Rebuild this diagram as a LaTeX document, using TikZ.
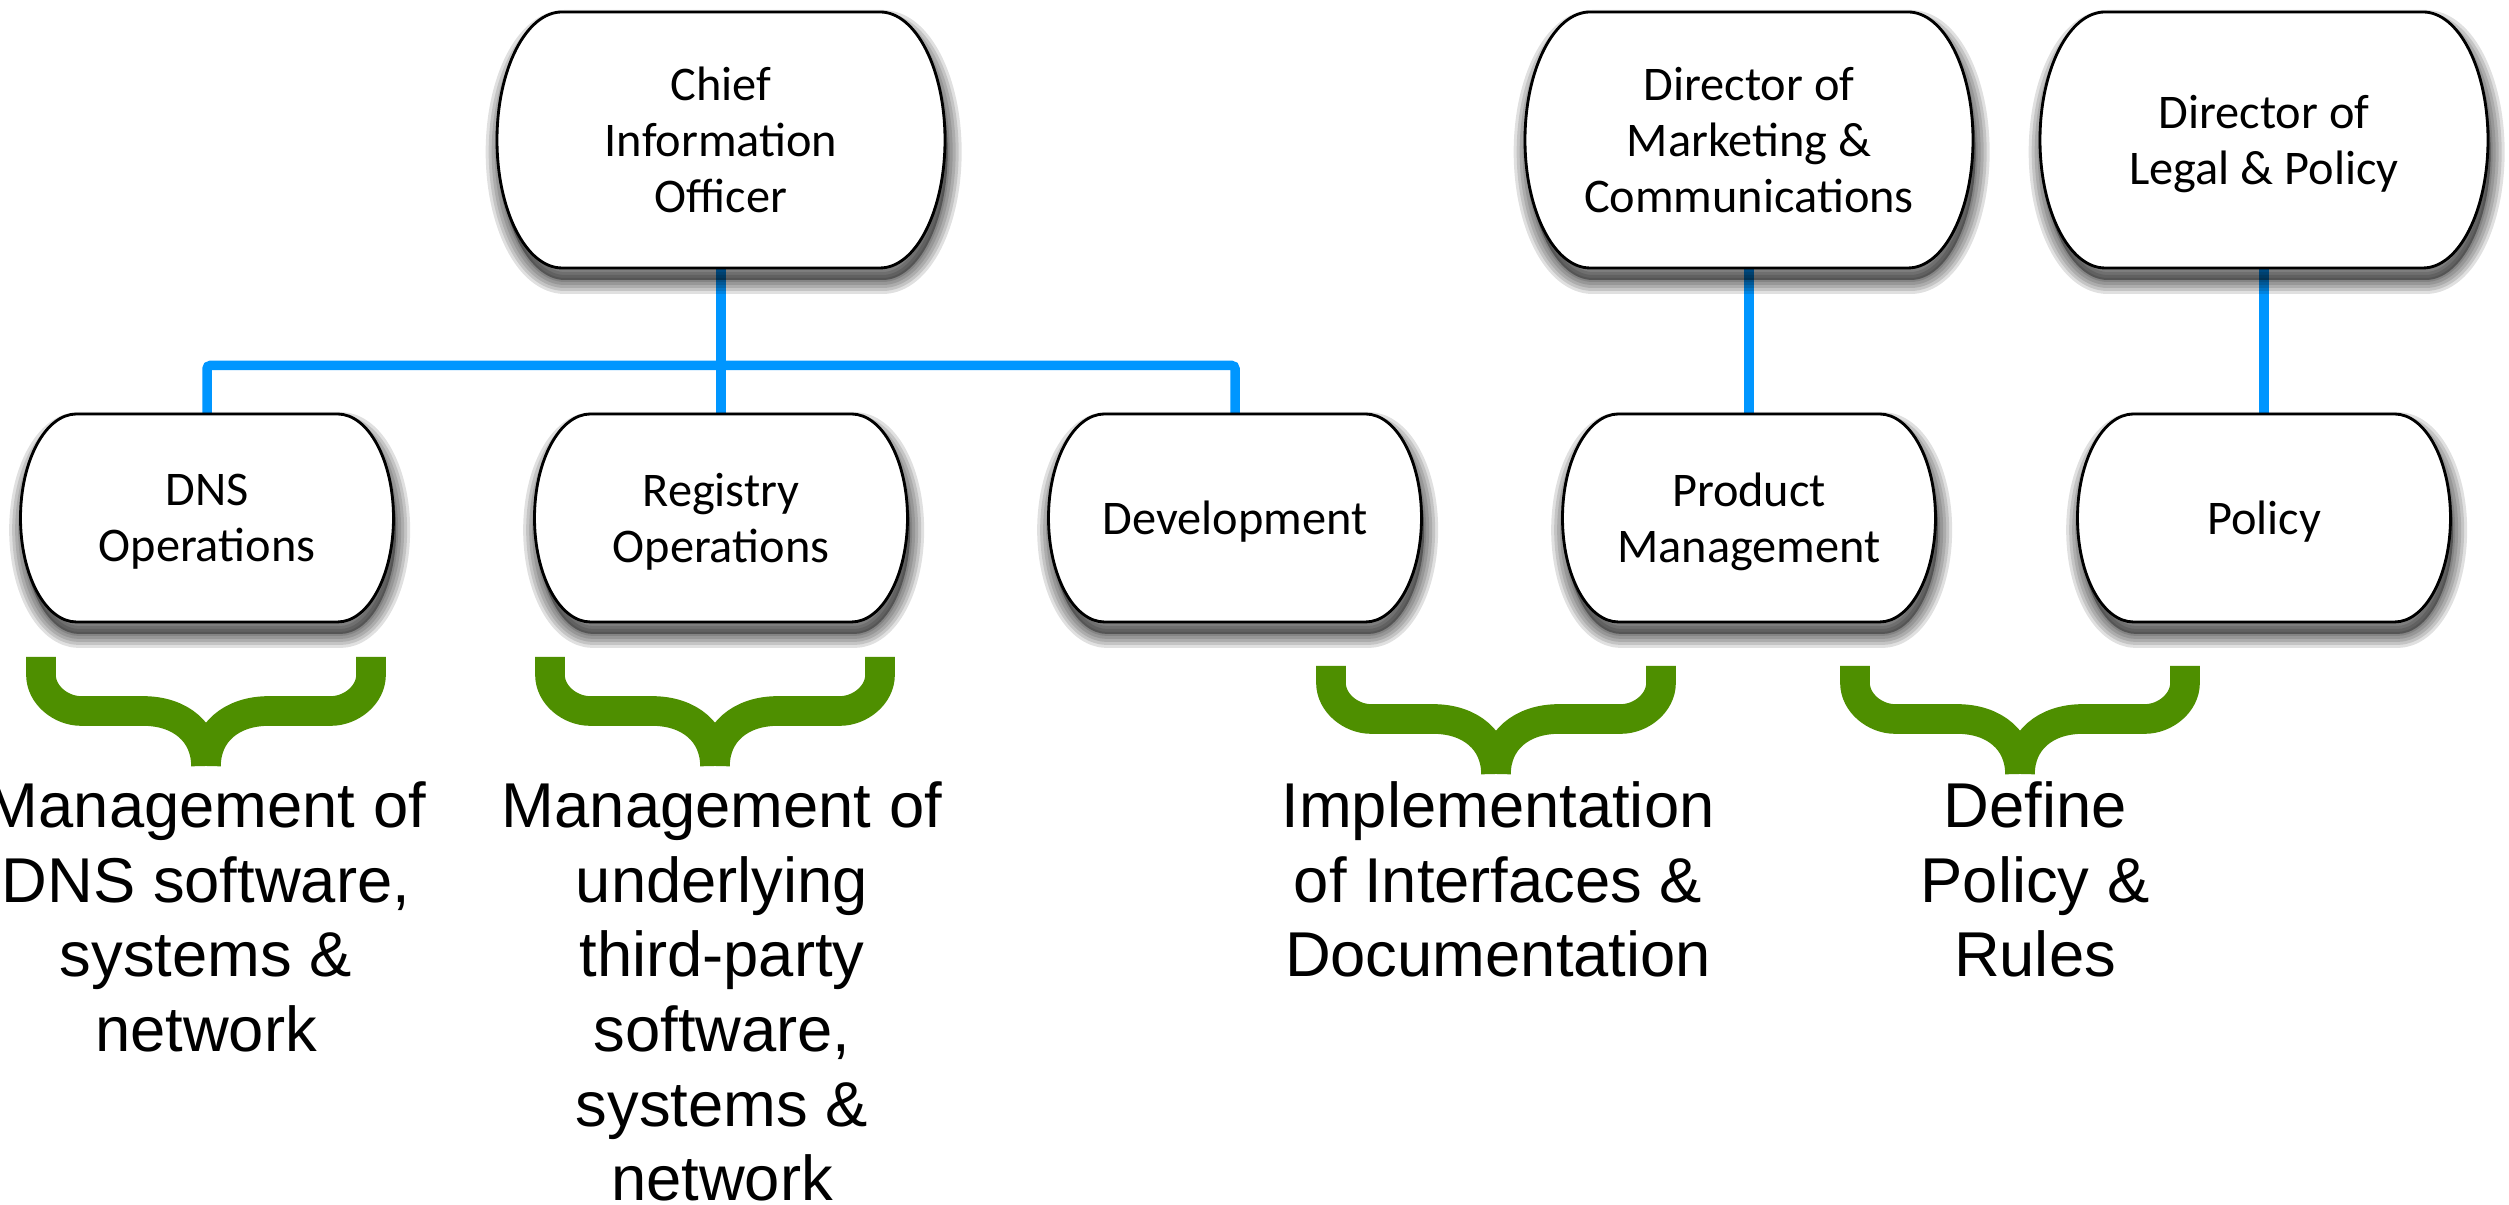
\documentclass[tikz,border=0pt]{standalone}
\usepackage{fontspec}
\setmainfont{Carlito}
\newfontfamily\arialf{Liberation Sans}
\definecolor{conblue}{RGB}{0,150,255}
\definecolor{brgreen}{RGB}{78,143,0}
\pgfdeclarelayer{bg}
\pgfdeclarelayer{lines}
\pgfdeclarelayer{shadows}
\pgfdeclarelayer{boxes}
\pgfsetlayers{bg,lines,shadows,boxes,main}
% outline of a box: name, bulge, half height, x offset, y offset
\newcommand\barrelpath[5]{([xshift=#2+#4,yshift=#5]#1.north west) -- ([xshift=-#2+#4,yshift=#5]#1.north east)
    arc[start angle=90,end angle=-90,x radius=#2,y radius=#3]
    -- ([xshift=#2+#4,yshift=#5]#1.south west)
    arc[start angle=270,end angle=90,x radius=#2,y radius=#3] -- cycle}
\newcommand\barrel[3]{%
  \begin{pgfonlayer}{shadows}
  \path[shadowfill] \barrelpath{#1}{#2}{#3}{0.8pt}{-3.6pt};
  \foreach \lw in {8.4pt,6.6pt,4.8pt,3pt,1.2pt}{%
    \path[shadowedge, line width=\lw] \barrelpath{#1}{#2}{#3}{0.8pt}{-3.6pt};}
  \end{pgfonlayer}
  \begin{pgfonlayer}{boxes}
  \path[boxshape] \barrelpath{#1}{#2}{#3}{0pt}{0pt};
  \end{pgfonlayer}}
\newcommand\gbrace[4]{%
  \draw[bracestyle] (#1-165,#2) -- (#1-165,#3+36)
    .. controls (#1-165,#3+16) and (#1-145,#3) .. (#1-125,#3) -- (#1-63,#3)
    .. controls (#1-25,#3) and (#1,#3-22) .. (#1,#4);
  \draw[bracestyle] (#1+165,#2) -- (#1+165,#3+36)
    .. controls (#1+165,#3+16) and (#1+145,#3) .. (#1+125,#3) -- (#1+63,#3)
    .. controls (#1+25,#3) and (#1,#3-22) .. (#1,#4);}
\tikzset{
  box/.style={inner sep=0pt, outer sep=0pt, align=center,
    font=\fontsize{14.5}{16.8}\selectfont, text depth=0pt},
  topbox/.style={box, minimum width=134.4pt, minimum height=76.8pt},
  subbox/.style={box, minimum width=111.9pt, minimum height=62.4pt},
  note/.style={anchor=north, inner sep=0pt, align=center,
    font=\arialf\fontsize{19}{22.4}\selectfont},
  conn/.style={draw=conblue, line width=2.85pt, rounded corners=1pt},
  bracestyle/.style={draw=brgreen, line width=8.9pt, line cap=butt, line join=round},
  boxshape/.style={draw=black, line width=0.85pt, fill=white},
  shadowfill/.style={fill=black, fill opacity=0.35},
  shadowedge/.style={draw=black, draw opacity=0.12, line join=round},
}
\begin{document}
\begin{tikzpicture}[x=0.3pt,y=0.3pt]
\begin{pgfonlayer}{bg}
\fill[white] (0,0) rectangle (2509,1205);
\end{pgfonlayer}
\useasboundingbox (0,0) rectangle (2509,1205);
% top boxes
\node[topbox] (cio) at (721,1065) {Chief\\Information\\Officer};
\node[topbox] (mkt) at (1749,1065) {Director of\\Marketing \&\\Communications};
\node[topbox] (legal) at (2264,1065) {Director of\\Legal \& Policy};
% second row
\node[subbox] (dns) at (207,687) {DNS\\Operations};
\node[subbox] (reg) at (721,687) {Registry\\Operations};
\node[subbox] (dev) at (1235,687) {Development};
\node[subbox] (pm) at (1749,687) {Product\\Management};
\node[subbox] (pol) at (2264,687) {Policy};
\coordinate (bus) at (721,839.5);
\barrel{cio}{19.5pt}{38.4pt}
\barrel{mkt}{19.5pt}{38.4pt}
\barrel{legal}{19.5pt}{38.4pt}
\barrel{dns}{16.8pt}{31.2pt}
\barrel{reg}{16.8pt}{31.2pt}
\barrel{dev}{16.8pt}{31.2pt}
\barrel{pm}{16.8pt}{31.2pt}
\barrel{pol}{16.8pt}{31.2pt}
\begin{pgfonlayer}{lines}
\draw[conn] (cio.south) -- (reg.north);
\draw[conn] (dns.north) -- (dns.north |- bus) -- (dev.north |- bus) -- (dev.north);
\draw[conn] (mkt.south) -- (pm.north);
\draw[conn] (legal.south) -- (pol.north);
\end{pgfonlayer}
% braces
\gbrace{206}{548}{494}{439}
\gbrace{715}{548}{494}{439}
\gbrace{1496}{539}{486}{431}
\gbrace{2020}{539}{486}{431}
% notes
\node[note] (n1) at (206,424) {Management of\\DNS software,\\systems \&\\network};
\node[note] (n2) at (722,424) {Management of\\underlying\\third-party\\software,\\systems \&\\network};
\node[note] (n3) at (1498,424) {Implementation\\of Interfaces \&\\Documentation};
\node[note] (n4) at (2035,424) {Define\\Policy \&\\Rules};
\end{tikzpicture}
\end{document}
